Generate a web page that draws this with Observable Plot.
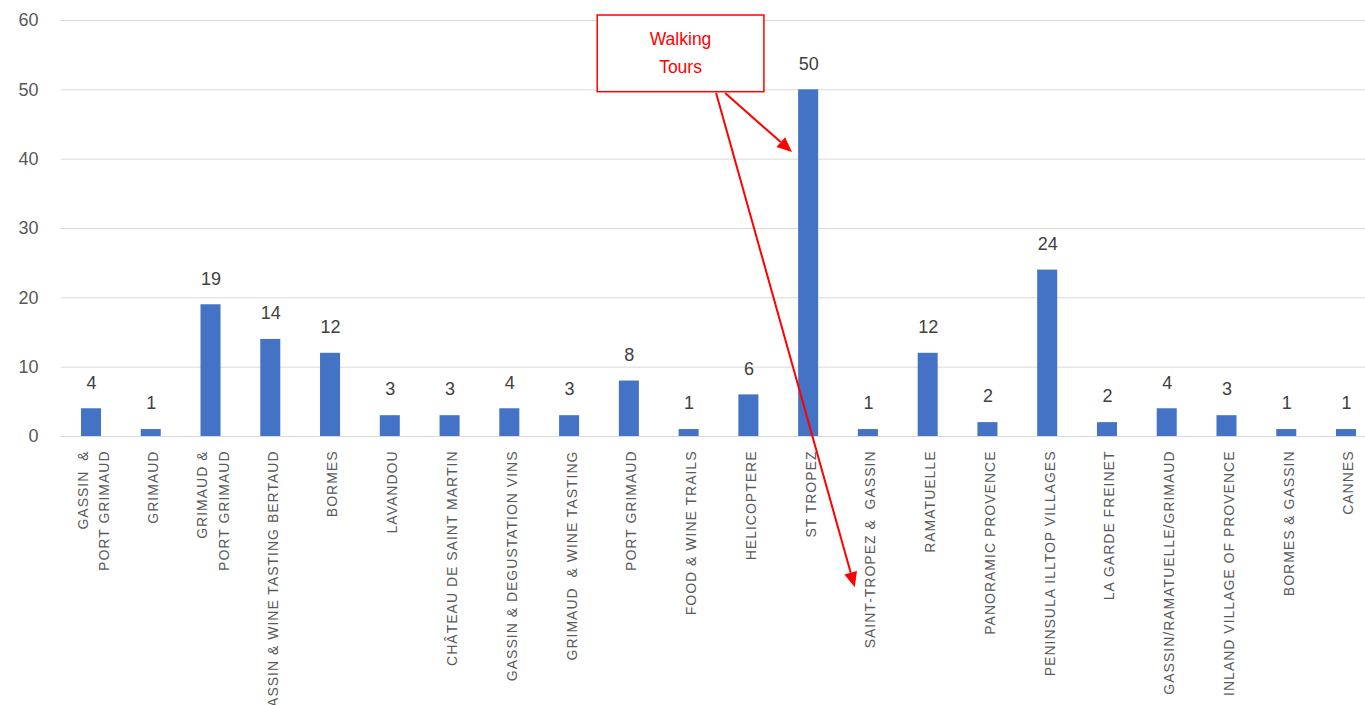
<!DOCTYPE html>
<html>
<head>
<meta charset="utf-8">
<script src="https://cdn.jsdelivr.net/npm/d3@7"></script>
<script src="https://cdn.jsdelivr.net/npm/@observablehq/plot@0.6"></script>
<style>
  html, body { margin: 0; padding: 0; background: #fff; overflow: hidden; }
</style>
</head>
<body>
<div id="chart"></div>
<script>
const categories = [
  "GASSIN  &\nPORT GRIMAUD",
  "GRIMAUD",
  "GRIMAUD &\nPORT GRIMAUD",
  "GASSIN & WINE TASTING BERTAUD",
  "BORMES",
  "LAVANDOU",
  "CHÂTEAU DE SAINT MARTIN",
  "GASSIN & DEGUSTATION VINS",
  "GRIMAUD  & WINE TASTING",
  "PORT GRIMAUD",
  "FOOD & WINE TRAILS",
  "HELICOPTERE",
  "ST TROPEZ",
  "SAINT-TROPEZ &  GASSIN",
  "RAMATUELLE",
  "PANORAMIC PROVENCE",
  "PENINSULA ILLTOP VILLAGES",
  "LA GARDE FREINET",
  "GASSIN/RAMATUELLE/GRIMAUD",
  "INLAND VILLAGE OF PROVENCE",
  "BORMES & GASSIN",
  "CANNES"
];
const counts = [4, 1, 19, 14, 12, 3, 3, 4, 3, 8, 1, 6, 50, 1, 12, 2, 24, 2, 4, 3, 1, 1];
const yTicks = [0, 10, 20, 30, 40, 50, 60];

// Annotation, in data units (category position, value)
const noteText = ["Walking", "Tours"];
const noteBoxX = [8.47, 11.26];
const noteBoxY = [49.66, 60.72];
const noteArrows = [
  {from: [10.61, 49.47], to: [11.73, 40.96]},
  {from: [10.46, 49.47], to: [12.78, -21.8]}
];

const data = categories.map((c, i) => ({category: c, count: counts[i]}));

function annotation(index, scales) {
  const xs = scales.x, ys = scales.y;
  const bw = typeof xs.bandwidth === "function" ? xs.bandwidth() : xs.bandwidth;
  const x0 = xs(categories[0]) + bw / 2;
  const step = xs(categories[1]) - xs(categories[0]);
  const px = p => x0 + p * step;
  const red = "#FF0000";
  const g = d3.create("svg:g");
  for (const a of noteArrows) {
    const xA = px(a.from[0]), yA = ys(a.from[1]);
    const xB = px(a.to[0]), yB = ys(a.to[1]);
    const dx = xB - xA, dy = yB - yA, len = Math.hypot(dx, dy);
    const ux = dx / len, uy = dy / len;
    const hl = 15, hw = 6.5;
    const bx = xB - ux * hl, by = yB - uy * hl;
    g.append("line").attr("x1", xA).attr("y1", yA).attr("x2", bx).attr("y2", by)
      .attr("stroke", red).attr("stroke-width", 2);
    g.append("polygon")
      .attr("points", [[xB, yB], [bx - uy * hw, by + ux * hw], [bx + uy * hw, by - ux * hw]].map(p => p.join(",")).join(" "))
      .attr("fill", red);
  }
  const bx1 = px(noteBoxX[0]), bx2 = px(noteBoxX[1]);
  const by1 = ys(noteBoxY[1]), by2 = ys(noteBoxY[0]);
  g.append("rect").attr("x", bx1).attr("y", by1).attr("width", bx2 - bx1).attr("height", by2 - by1)
    .attr("fill", "white").attr("stroke", red).attr("stroke-width", 1.5);
  const cx = (bx1 + bx2) / 2, cy = (by1 + by2) / 2;
  const lh = 28;
  noteText.forEach((t, i) => {
    g.append("text").attr("x", cx).attr("y", cy + (i - (noteText.length - 1) / 2) * lh)
      .attr("dy", "0.35em").attr("text-anchor", "middle")
      .attr("fill", red).attr("font-size", 17.5).attr("font-family", "Liberation Sans, Arial, sans-serif")
      .text(t);
  });
  return g.node();
}

const chart = Plot.plot({
  width: 1365,
  height: 705,
  marginLeft: 61,
  marginRight: 0,
  marginTop: 20,
  marginBottom: 269,
  style: {fontFamily: "Liberation Sans, Arial, sans-serif", background: "white", overflow: "visible"},
  x: {domain: categories, range: [61.1, 1375.9], paddingInner: 0.665, paddingOuter: 0.3325, round: false, axis: null},
  y: {domain: [0, 60], axis: null},
  marks: [
    Plot.ruleY(yTicks, {stroke: "#d9d9d9", strokeWidth: 1}),
    Plot.axisY(yTicks, {tickSize: 0, tickPadding: 23, fontSize: 18, color: "#595959", label: null}),
    Plot.barY(data, {x: "category", y: "count", fill: "#4472C4"}),
    Plot.text(data, {x: "category", y: "count", text: d => String(d.count), dy: -26, fontSize: 18, fill: "#404040"}),
    Plot.text(data, {x: "category", y: 0, text: "category", rotate: -90, textAnchor: "end", dy: 14,
      fontSize: 14, lineHeight: 1.55, fill: "#595959"}),
    annotation
  ]
});
d3.select(chart).selectAll("text")
  .filter(function() { return (this.getAttribute("transform") || "").includes("rotate"); })
  .style("letter-spacing", "1px");
document.getElementById("chart").appendChild(chart);
</script>
</body>
</html>
